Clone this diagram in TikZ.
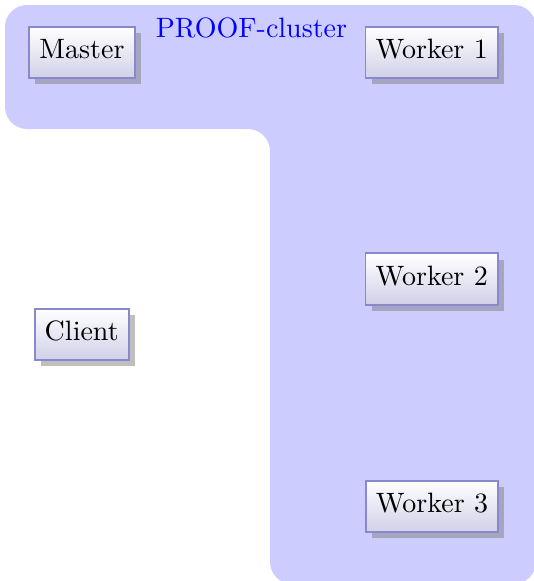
\documentclass[tikz,border=0pt]{standalone}
\usetikzlibrary{shadows}
\definecolor{clusterfill}{RGB}{204,204,255}
\definecolor{nodeborder}{RGB}{136,136,204}
\definecolor{nodebottom}{RGB}{208,208,232}
\begin{document}
\begin{tikzpicture}[x=0.357pt,y=-0.357pt,
  hostbox/.style={draw=nodeborder,line width=0.7pt,top color=white,bottom color=nodebottom,
    drop shadow,inner xsep=3.6pt,inner ysep=4.5pt,text height=6.83pt,text depth=2.4pt,font=\normalsize},
  clusterlabel/.style={text=blue,anchor=base,inner sep=0pt}]
\useasboundingbox (0,0) rectangle (533,581);
\fill[clusterfill,rounded corners=7.9pt] (5,5) -- (536,5) -- (536,584) -- (270,584) -- (270,129) -- (5,129) -- cycle;
\node[clusterlabel] (lbl) at (251.5,37.5) {PROOF-cluster};
\node[hostbox] (master) at (82,52.5) {Master};
\node[hostbox] (w1) at (431.7,52.5) {Worker 1};
\node[hostbox] (w2) at (431.7,279) {Worker 2};
\node[hostbox] (client) at (81.7,334.3) {Client};
\node[hostbox] (w3) at (432,506.3) {Worker 3};
\end{tikzpicture}
\end{document}
